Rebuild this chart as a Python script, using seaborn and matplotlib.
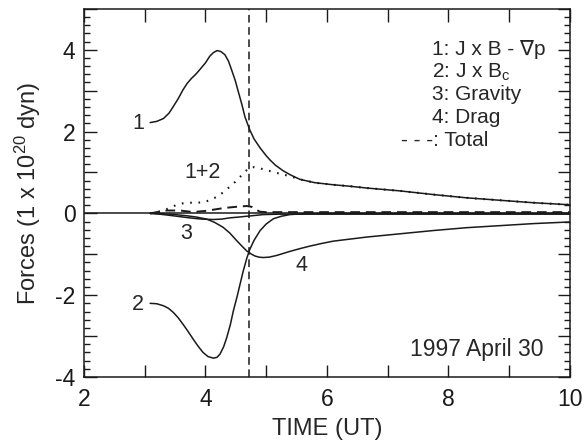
import numpy as np
import matplotlib
matplotlib.use("Agg")
import matplotlib.pyplot as plt
import seaborn as sns
from matplotlib.ticker import MultipleLocator, FuncFormatter

# curve 1: J x B - grad p
t1 = [3.09, 3.2, 3.31, 3.4, 3.47, 3.55, 3.63, 3.7, 3.77, 3.84, 3.91, 4.0, 4.07, 4.13,
      4.19, 4.25, 4.32, 4.38, 4.43, 4.49, 4.54, 4.6, 4.65, 4.73, 4.8, 4.9, 5.0, 5.06,
      5.15, 5.28, 5.4, 5.5, 5.56, 5.8, 6.1, 6.4, 6.65, 7.2, 7.75, 8.3, 8.85, 9.4, 10.0]
f1 = [2.22, 2.25, 2.32, 2.45, 2.61, 2.8, 3.02, 3.18, 3.30, 3.40, 3.52, 3.68, 3.84, 3.93,
      3.98, 3.96, 3.88, 3.72, 3.51, 3.25, 2.98, 2.66, 2.36, 2.04, 1.82, 1.60, 1.41, 1.31,
      1.18, 1.04, 0.94, 0.87, 0.83, 0.75, 0.70, 0.66, 0.62, 0.55, 0.46, 0.38, 0.32, 0.26, 0.21]

# 1+2 (dotted)
t12 = [3.09, 3.2, 3.31, 3.42, 3.53, 3.64, 3.74, 3.85, 3.96, 4.07, 4.18, 4.29, 4.40, 4.49,
       4.57, 4.65, 4.73, 4.80, 4.90, 5.0, 5.12, 5.25, 5.39, 5.5, 5.56, 5.8, 6.1, 6.4, 6.65,
       7.2, 7.75, 8.3, 8.85, 9.4, 10.0]
f12 = [0.0, 0.03, 0.07, 0.14, 0.21, 0.25, 0.26, 0.26, 0.27, 0.32, 0.40, 0.51, 0.65, 0.77,
       0.89, 1.02, 1.12, 1.13, 1.10, 1.06, 1.01, 0.96, 0.91, 0.86, 0.83, 0.75, 0.70, 0.66, 0.62,
       0.55, 0.46, 0.38, 0.32, 0.26, 0.21]

# curve 2: J x Bc
t2 = [3.09, 3.2, 3.31, 3.39, 3.47, 3.55, 3.63, 3.72, 3.80, 3.88, 3.96, 4.04, 4.13, 4.19,
      4.24, 4.30, 4.35, 4.41, 4.46, 4.52, 4.57, 4.62, 4.68, 4.73, 4.80, 4.90, 5.0, 5.12,
      5.25, 5.39, 5.6, 6.0, 10.0]
f2 = [-2.20, -2.21, -2.26, -2.32, -2.42, -2.55, -2.71, -2.90, -3.08, -3.25, -3.40, -3.50,
      -3.54, -3.52, -3.44, -3.26, -3.04, -2.72, -2.38, -2.04, -1.73, -1.42, -1.10, -0.88,
      -0.66, -0.42, -0.26, -0.13, -0.07, -0.03, -0.01, 0.0, 0.0]

# curve 3: gravity
t3 = [3.09, 3.25, 3.42, 3.58, 3.74, 3.93, 4.13, 4.27, 4.40, 4.55, 4.68, 4.82, 4.95, 5.2, 6.0, 10.0]
f3 = [0.0, -0.02, -0.05, -0.08, -0.11, -0.14, -0.15, -0.14, -0.11, -0.09, -0.07, -0.05,
      -0.03, -0.02, -0.02, -0.02]

# curve 4: drag
t4 = [3.09, 3.3, 3.5, 3.7, 3.85, 4.02, 4.15, 4.29, 4.40, 4.51, 4.60, 4.68, 4.75, 4.81,
      4.88, 4.95, 5.05, 5.17, 5.28, 5.39, 5.56, 5.72, 5.9, 6.1, 6.65, 7.2, 7.75, 8.3, 8.85,
      9.4, 10.0]
f4 = [0.0, -0.01, -0.03, -0.06, -0.09, -0.14, -0.22, -0.34, -0.48, -0.66, -0.80, -0.92,
      -0.99, -1.04, -1.07, -1.08, -1.07, -1.03, -0.98, -0.93, -0.86, -0.80, -0.74, -0.68,
      -0.58, -0.50, -0.42, -0.35, -0.30, -0.25, -0.21]

# total (dashed)
tt = [3.09, 3.2, 3.36, 3.58, 3.75, 3.85, 4.0, 4.13, 4.3, 4.5, 4.68, 4.76, 4.83, 4.9, 5.0, 6.0, 10.0]
ft = [0.0, 0.03, 0.07, 0.07, 0.04, 0.04, 0.06, 0.09, 0.13, 0.16, 0.18, 0.16, 0.09, 0.04,
      0.03, 0.03, 0.03]

event_time = 4.72

legend_lines = ["1: J x B - \u2207p", "2: J x B$_c$", "3: Gravity", "4: Drag"]

sns.set_theme(style="ticks")
plt.rcParams["font.family"] = ["Liberation Sans", "DejaVu Sans"]
plt.rcParams["mathtext.fontset"] = "custom"
plt.rcParams["mathtext.rm"] = "Liberation Sans"
plt.rcParams["mathtext.it"] = "Liberation Sans"
plt.rcParams["mathtext.default"] = "regular"
plt.rcParams["axes.unicode_minus"] = False

fig = plt.figure(figsize=(5.87, 4.44), dpi=100)
ax = fig.add_axes([0.143, 0.151, 0.828, 0.829])

lw = 1.1
ax.axhline(0, color="k", lw=lw)
sns.lineplot(x=t1, y=f1, color="k", lw=lw, ax=ax)
sns.lineplot(x=t2, y=f2, color="k", lw=lw, ax=ax)
sns.lineplot(x=t3, y=f3, color="k", lw=lw, ax=ax)
sns.lineplot(x=t4, y=f4, color="k", lw=lw, ax=ax)
ax.plot(t12, f12, color="k", lw=1.5, linestyle=(0, (0.8, 3.2)))
ax.plot(tt, ft, color="k", lw=1.4, linestyle=(0, (5, 3)))
ax.axvline(event_time, color="k", lw=1.1, linestyle=(0, (5, 3)))

ax.set_xlim(2, 10)
ax.set_ylim(-4, 5)
ax.xaxis.set_major_locator(MultipleLocator(1))
ax.xaxis.set_major_formatter(FuncFormatter(lambda v, p: f"{v:.0f}" if round(v) % 2 == 0 else ""))
ax.yaxis.set_major_locator(MultipleLocator(1))
ax.yaxis.set_minor_locator(MultipleLocator(0.2))
ax.yaxis.set_major_formatter(FuncFormatter(lambda v, p: f"{v:.0f}" if round(v) % 2 == 0 else ""))
ax.tick_params(which="both", direction="in", top=True, right=True, colors="k", labelsize=16.5)
ax.tick_params(which="major", length=9, width=1.0, pad=6)
ax.tick_params(which="minor", length=4.5, width=1.0)
ax.tick_params(axis="x", pad=8)
for s in ax.spines.values():
    s.set_linewidth(1.1)
    s.set_color("k")

ax.set_xlabel("TIME (UT)", fontsize=17, labelpad=5)
ax.set_ylabel("Forces (1 x 10$^{20}$ dyn)", fontsize=17, labelpad=9)

fs = 15.5
ax.text(3.0, 2.2, "1", ha="right", va="center", fontsize=fs)
ax.text(3.96, 0.99, "1+2", ha="center", va="center", fontsize=fs)
ax.text(3.69, -0.5, "3", ha="center", va="center", fontsize=fs)
ax.text(5.58, -1.28, "4", ha="center", va="center", fontsize=fs)
ax.text(2.98, -2.22, "2", ha="right", va="center", fontsize=fs)
ax.text(9.56, -3.34, "1997 April 30", ha="right", va="center", fontsize=16.5)

ys = [4.0, 3.45, 2.9, 2.34]
for s, y in zip(legend_lines, ys):
    ax.text(7.73, y, s, ha="left", va="center", fontsize=15)
ax.text(7.22, 1.79, "- - -: Total", ha="left", va="center", fontsize=15)

fig.savefig("out.png", dpi=100)
